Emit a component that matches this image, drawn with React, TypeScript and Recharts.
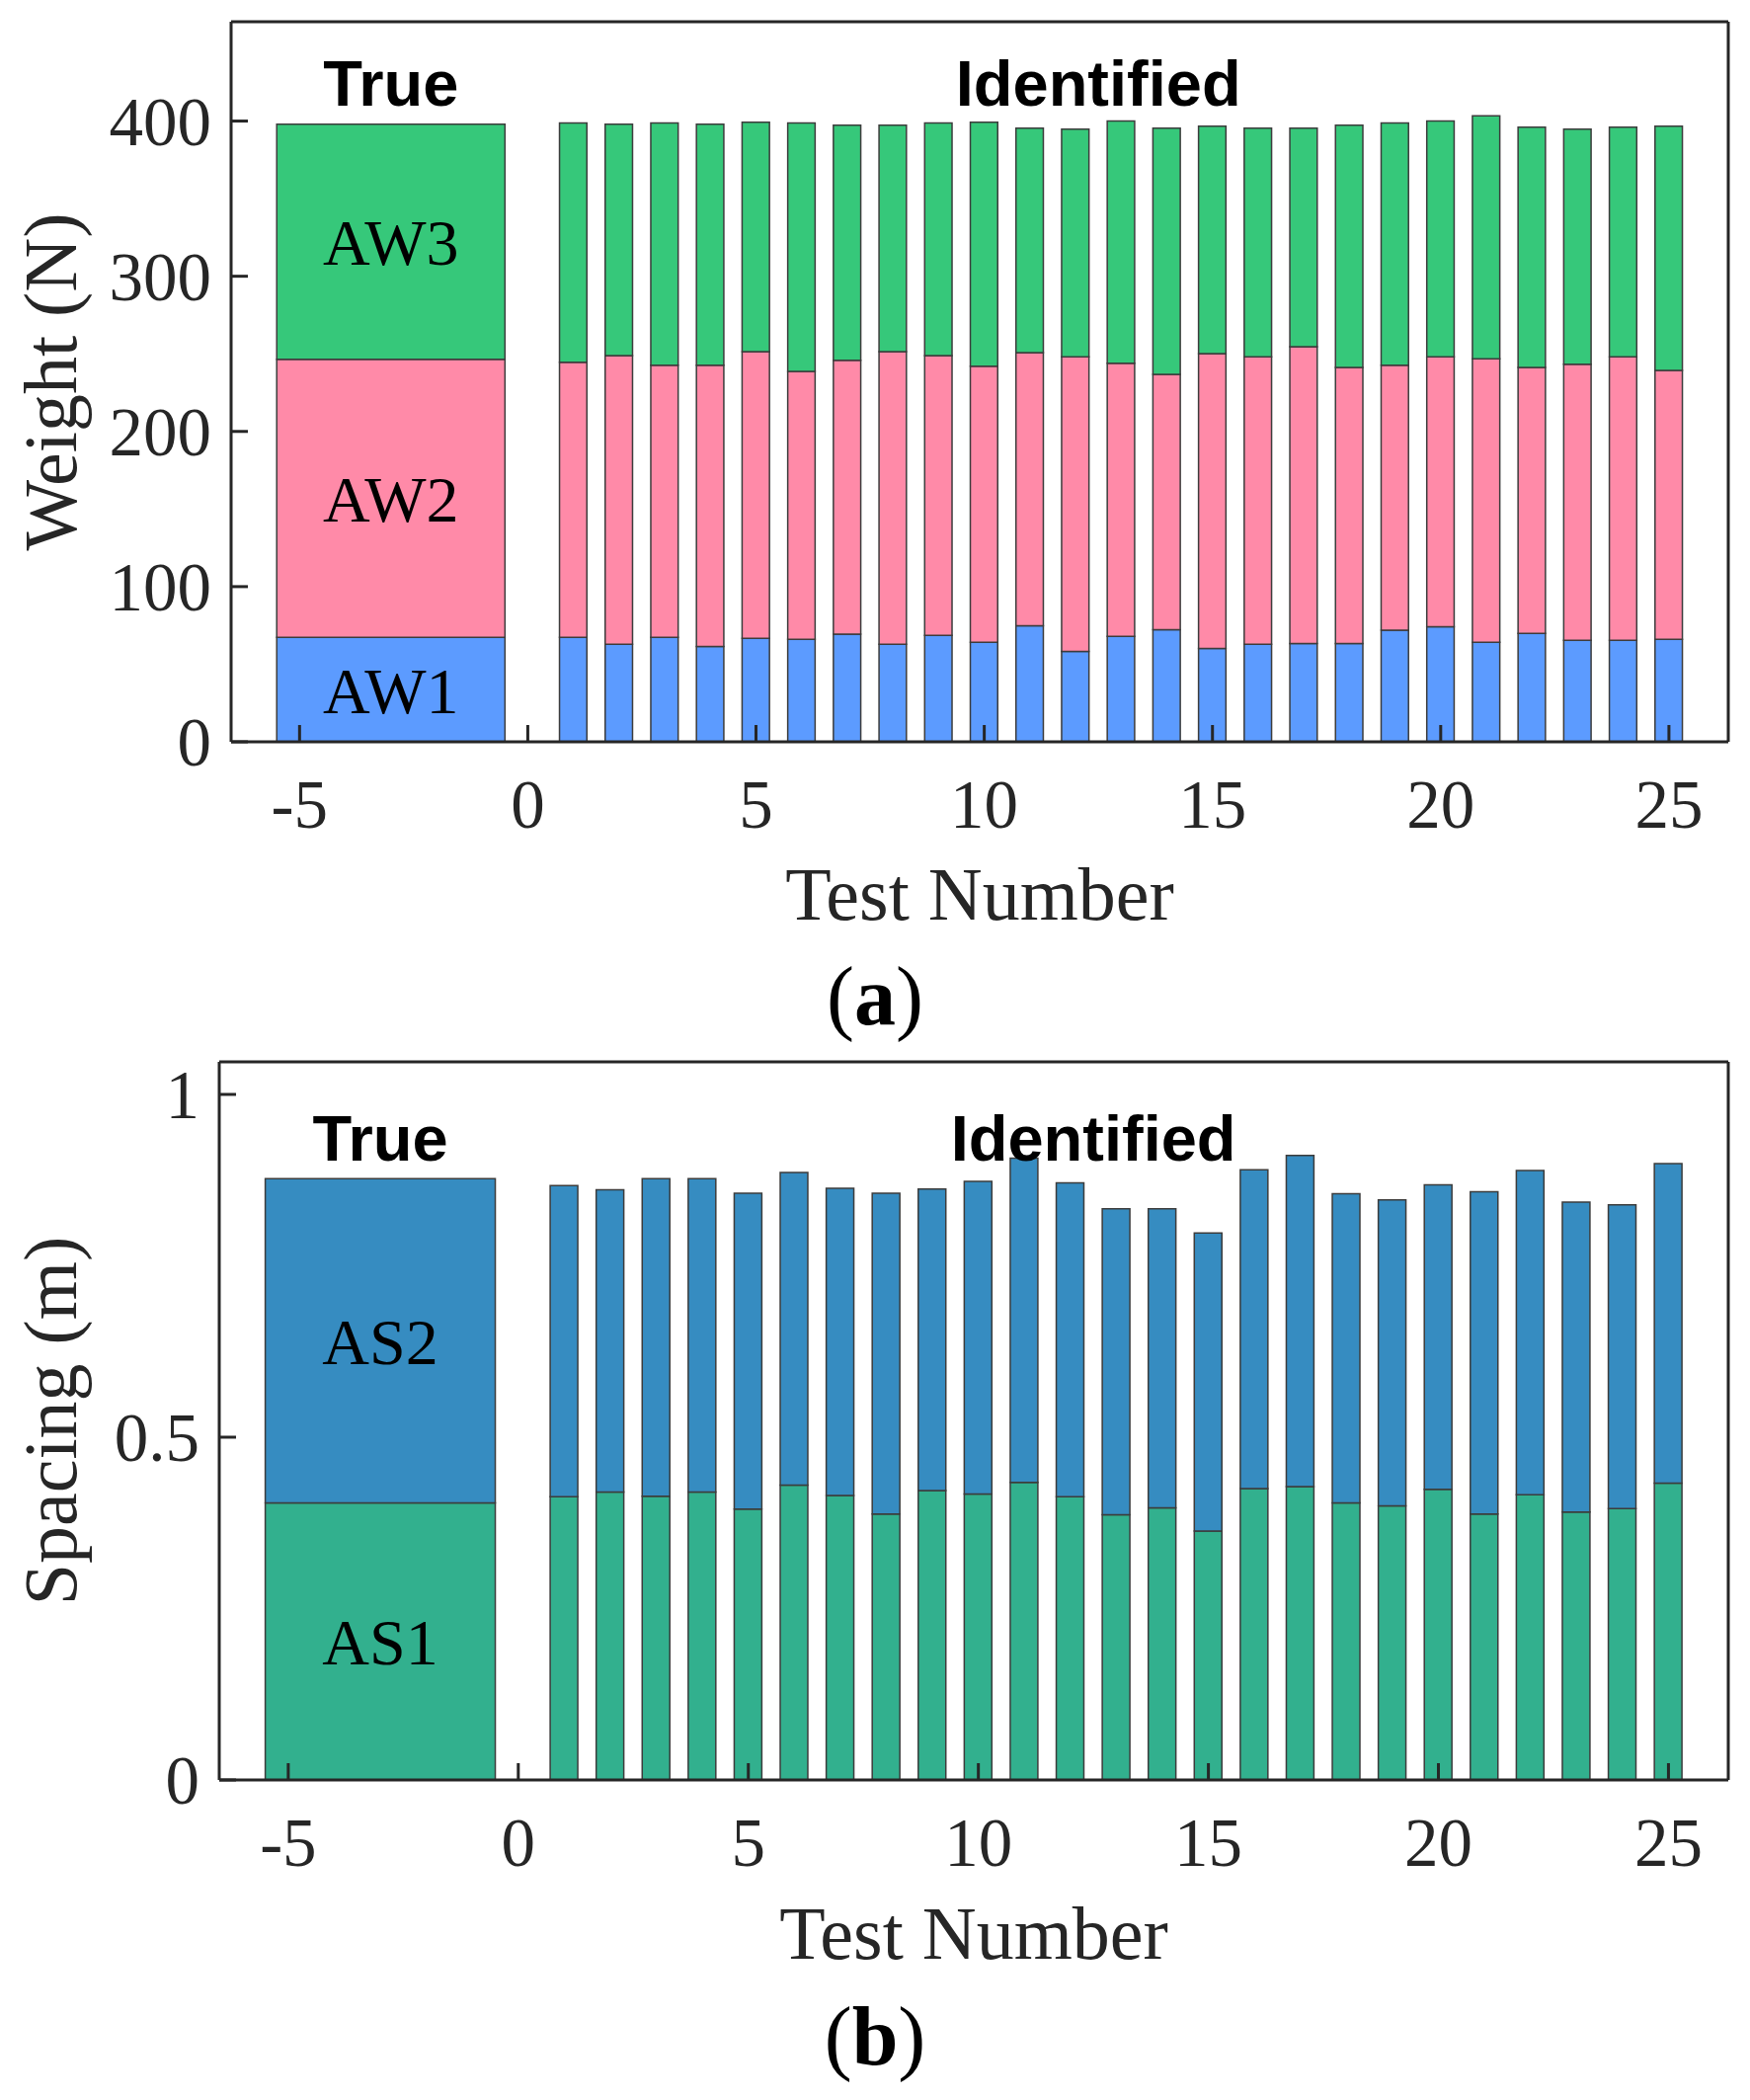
import React from "react";
import { BarChart, Bar, XAxis, YAxis, ReferenceArea, ReferenceDot } from "recharts";

// test numbers of the identified runs
const tests = [1, 2, 3, 4, 5, 6, 7, 8, 9, 10, 11, 12, 13, 14, 15, 16, 17, 18, 19, 20, 21, 22, 23, 24, 25];

// (a) axle weights, N
const aw1 = [67.3, 62.8, 67.3, 61.5, 66.7, 66.0, 69.3, 62.8, 68.6, 64.1, 74.8, 58.2, 68.0, 72.2, 60.2, 62.8, 63.4, 63.4, 71.9, 74.1, 64.1, 69.9, 65.4, 65.4, 66.0];
const aw2 = [177.3, 186.0, 175.3, 181.1, 184.7, 172.7, 176.6, 188.6, 180.2, 177.9, 175.9, 189.9, 175.9, 164.5, 189.9, 185.3, 191.2, 177.9, 170.7, 174.0, 182.7, 171.4, 177.9, 182.7, 173.3];
const aw3 = [154.1, 149.2, 156.1, 155.4, 147.9, 160.0, 151.5, 146.0, 149.9, 157.3, 144.7, 146.7, 156.1, 158.7, 146.6, 147.3, 140.8, 156.1, 156.1, 151.9, 156.5, 154.8, 151.5, 148.0, 157.4];
const trueAW = [67.3, 179.2, 151.5];

// (b) axle spacings, m
const as1 = [0.413, 0.42, 0.414, 0.42, 0.395, 0.43, 0.415, 0.388, 0.422, 0.417, 0.434, 0.413, 0.387, 0.397, 0.363, 0.425, 0.428, 0.404, 0.4, 0.424, 0.388, 0.416, 0.391, 0.396, 0.433];
const as2 = [0.454, 0.441, 0.463, 0.457, 0.461, 0.456, 0.448, 0.468, 0.44, 0.456, 0.473, 0.458, 0.446, 0.436, 0.435, 0.465, 0.483, 0.451, 0.446, 0.444, 0.47, 0.473, 0.452, 0.443, 0.466];
const trueAS = [0.404, 0.473];

const xTicks = [-5, 0, 5, 10, 15, 20, 25];
const weightTicks = [0, 100, 200, 300, 400];
const spacingTicks = [0, 0.5, 1];

const W = 1772;
const X_DOMAIN: [number, number] = [-6.5, 26.3];
const TRUE_X = -3;
const TRUE_W = 5;
const BAR_W = 0.6;

const SERIF = '"Liberation Serif", "Times New Roman", serif';
const SANS = '"Liberation Sans", Arial, sans-serif';
const INK = "#262626";
const EDGE = "#3c3c3c";

type Series = { key: string; name: string; color: string };

interface PanelProps {
  top: number;
  height: number;
  yAxisWidth: number;
  marginTop: number;
  marginBottom: number;
  data: Record<string, number>[];
  series: Series[];
  trueVals: number[];
  yDomain: [number, number];
  yTicks: number[];
  yLabel: string;
  headY: number;
  xLabelOffset: number;
}

function Panel(p: PanelProps) {
  const plotW = W - 22 - p.yAxisWidth;
  const barSize = (plotW / (X_DOMAIN[1] - X_DOMAIN[0])) * BAR_W;
  let base = 0;
  const segments = p.trueVals.map((v, i) => {
    const seg = { y1: base, y2: base + v, ...p.series[i] };
    base += v;
    return seg;
  });
  const tickFont = { fontSize: 69, fill: INK, fontFamily: SERIF };
  const line = { stroke: INK, strokeWidth: 3 };

  return (
    <div style={{ position: "absolute", left: 0, top: p.top, width: W, height: p.height }}>
      <BarChart
        width={W}
        height={p.height}
        data={p.data}
        barSize={barSize}
        margin={{ top: p.marginTop, right: 21, left: 0, bottom: p.marginBottom }}
      >
        <XAxis
          dataKey="test"
          type="number"
          domain={X_DOMAIN}
          ticks={xTicks}
          allowDataOverflow
          height={200}
          tickSize={-17}
          tickMargin={55}
          tick={tickFont}
          tickLine={line}
          axisLine={line}
          label={{ value: "Test Number", position: "insideBottom", offset: p.xLabelOffset, fontSize: 76, fill: INK, fontFamily: SERIF }}
        />
        <XAxis
          xAxisId="top"
          orientation="top"
          dataKey="test"
          type="number"
          domain={X_DOMAIN}
          ticks={xTicks}
          allowDataOverflow
          height={1}
          tickSize={-17}
          tick={false}
          tickLine={line}
          axisLine={line}
        />
        <YAxis
          type="number"
          domain={p.yDomain}
          ticks={p.yTicks}
          allowDataOverflow
          width={p.yAxisWidth}
          tickSize={-17}
          tickMargin={37}
          tick={tickFont}
          tickLine={line}
          axisLine={line}
          label={{ value: p.yLabel, angle: -90, position: "insideLeft", offset: 50, textAnchor: "middle", fontSize: 76, fill: INK, fontFamily: SERIF }}
        />
        <YAxis
          yAxisId="right"
          orientation="right"
          type="number"
          domain={p.yDomain}
          ticks={p.yTicks}
          allowDataOverflow
          width={1}
          tickSize={-17}
          tick={false}
          tickLine={line}
          axisLine={line}
        />
        {p.series.map((s) => (
          <Bar
            key={s.key}
            dataKey={s.key}
            name={s.name}
            stackId="id"
            fill={s.color}
            stroke={EDGE}
            strokeWidth={1.5}
            isAnimationActive={false}
          />
        ))}
        {segments.map((s) => (
          <ReferenceArea
            key={s.key}
            x1={TRUE_X - TRUE_W / 2}
            x2={TRUE_X + TRUE_W / 2}
            y1={s.y1}
            y2={s.y2}
            fill={s.color}
            fillOpacity={1}
            stroke={EDGE}
            strokeWidth={1.5}
            label={{ value: s.name, position: "center", fontSize: 66, fill: "#000", fontFamily: SERIF }}
          />
        ))}
        <ReferenceDot
          x={TRUE_X}
          y={p.headY}
          r={1}
          fill="none"
          stroke="none"
          label={{ value: "True", position: "top", offset: 0, fontSize: 65, fontWeight: "bold", fill: "#000", fontFamily: SANS }}
        />
        <ReferenceDot
          x={12.5}
          y={p.headY}
          r={1}
          fill="none"
          stroke="none"
          label={{ value: "Identified", position: "top", offset: 0, fontSize: 65, fontWeight: "bold", fill: "#000", fontFamily: SANS }}
        />
      </BarChart>
    </div>
  );
}

export default function App() {
  const weightData = tests.map((t, i) => ({ test: t, aw1: aw1[i], aw2: aw2[i], aw3: aw3[i] }));
  const spacingData = tests.map((t, i) => ({ test: t, as1: as1[i], as2: as2[i] }));

  return (
    <div style={{ position: "absolute", left: 0, top: 0, width: W, height: 2126, background: "#fff" }}>
      <Panel
        top={0}
        height={1050}
        yAxisWidth={234}
        marginTop={21}
        marginBottom={99}
        data={weightData}
        series={[
          { key: "aw1", name: "AW1", color: "#5c9bff" },
          { key: "aw2", name: "AW2", color: "#ff8aa8" },
          { key: "aw3", name: "AW3", color: "#36c87a" },
        ]}
        trueVals={trueAW}
        yDomain={[0, 464]}
        yTicks={weightTicks}
        yLabel="Weight (N)"
        headY={409}
        xLabelOffset={20}
      />
      <Panel
        top={1050}
        height={1076}
        yAxisWidth={222}
        marginTop={24}
        marginBottom={124}
        data={spacingData}
        series={[
          { key: "as1", name: "AS1", color: "#32b08e" },
          { key: "as2", name: "AS2", color: "#368cc1" },
        ]}
        trueVals={trueAS}
        yDomain={[0, 1.0475]}
        yTicks={spacingTicks}
        yLabel="Spacing (m)"
        headY={0.902}
        xLabelOffset={19}
      />
      <svg
        width={W}
        height={2126}
        style={{ position: "absolute", left: 0, top: 0, pointerEvents: "none" }}
      >
        <text x={886} y={1037} textAnchor="middle" fontSize={84} fontFamily={SERIF} fill="#000">
          (<tspan fontWeight="bold">a</tspan>)
        </text>
        <text x={886} y={2090} textAnchor="middle" fontSize={84} fontFamily={SERIF} fill="#000">
          (<tspan fontWeight="bold">b</tspan>)
        </text>
      </svg>
    </div>
  );
}
